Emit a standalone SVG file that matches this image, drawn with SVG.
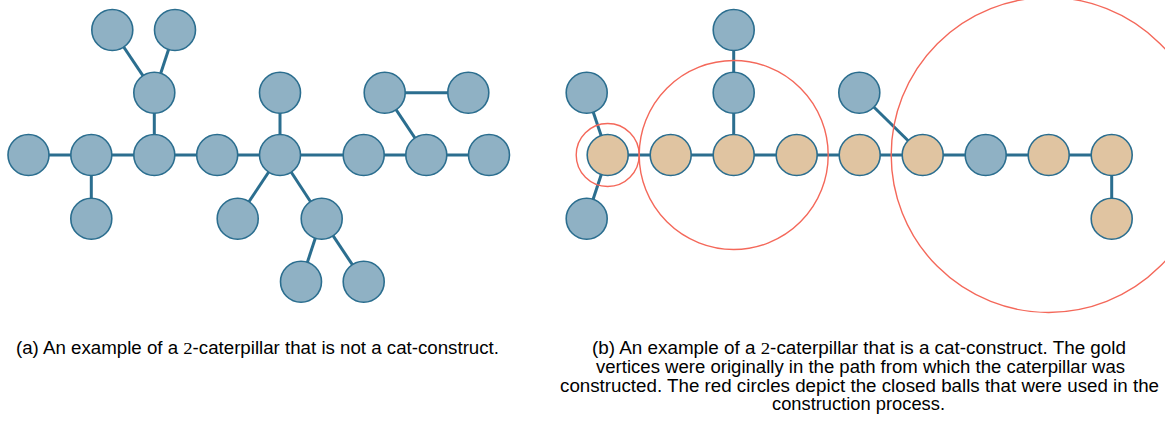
<svg xmlns="http://www.w3.org/2000/svg" width="1165" height="424" viewBox="0 0 1165 424">
<style>
.e{stroke:#2b6e8f;stroke-width:3;fill:none}
.n{fill:#8fb1c4;stroke:#2b6e8f;stroke-width:1.6}
.g{fill:#e0c4a1;stroke:#2b6e8f;stroke-width:1.6}
.b{fill:none;stroke:#f4685a;stroke-width:1.4}
.t{font-family:"Liberation Sans",Arial,sans-serif;font-size:17.5px;fill:#000}
.m{font-family:"Liberation Serif","Times New Roman",serif}
</style>
<rect width="1165" height="424" fill="#fff"/>
<g id="connectors-a">
<line class="e" x1="28.5" y1="155" x2="489" y2="155"/>
<line class="e" x1="91.3" y1="155" x2="91.3" y2="218.7"/>
<line class="e" x1="154.3" y1="155" x2="154.3" y2="92.7"/>
<line class="e" x1="154.3" y1="92.7" x2="112.3" y2="30"/>
<line class="e" x1="154.3" y1="92.7" x2="175" y2="30"/>
<line class="e" x1="280" y1="155" x2="280" y2="92.7"/>
<line class="e" x1="280" y1="155" x2="237.7" y2="218.7"/>
<line class="e" x1="280" y1="155" x2="321.7" y2="218.7"/>
<line class="e" x1="321.7" y1="218.7" x2="301" y2="281.7"/>
<line class="e" x1="321.7" y1="218.7" x2="363.7" y2="281.7"/>
<line class="e" x1="426.3" y1="155" x2="384.7" y2="92.7"/>
<line class="e" x1="384.7" y1="92.7" x2="468.3" y2="92.7"/>
</g>
<g id="nodes-a">
<circle id="a1" class="n" cx="28.5" cy="155" r="20.5"/>
<circle id="a2" class="n" cx="91.3" cy="155" r="20.5"/>
<circle id="a3" class="n" cx="154.3" cy="155" r="20.5"/>
<circle id="a4" class="n" cx="217.2" cy="155" r="20.5"/>
<circle id="a5" class="n" cx="280" cy="155" r="20.5"/>
<circle id="a6" class="n" cx="363.7" cy="155" r="20.5"/>
<circle id="a7" class="n" cx="426.3" cy="155" r="20.5"/>
<circle id="a8" class="n" cx="489" cy="155" r="20.5"/>
<circle id="a9" class="n" cx="91.3" cy="218.7" r="20.5"/>
<circle id="a10" class="n" cx="154.3" cy="92.7" r="20.5"/>
<circle id="a11" class="n" cx="112.3" cy="30" r="20.5"/>
<circle id="a12" class="n" cx="175" cy="30" r="20.5"/>
<circle id="a13" class="n" cx="280" cy="92.7" r="20.5"/>
<circle id="a14" class="n" cx="237.7" cy="218.7" r="20.5"/>
<circle id="a15" class="n" cx="321.7" cy="218.7" r="20.5"/>
<circle id="a16" class="n" cx="301" cy="281.7" r="20.5"/>
<circle id="a17" class="n" cx="363.7" cy="281.7" r="20.5"/>
<circle id="a18" class="n" cx="384.7" cy="92.7" r="20.5"/>
<circle id="a19" class="n" cx="468.3" cy="92.7" r="20.5"/>
</g>
<g id="connectors-b">
<line class="e" x1="607.7" y1="155" x2="1111.7" y2="155"/>
<line class="e" x1="586.7" y1="92.7" x2="607.7" y2="155"/>
<line class="e" x1="607.7" y1="155" x2="586.7" y2="218.7"/>
<line class="e" x1="733.7" y1="30" x2="733.7" y2="155"/>
<line class="e" x1="859.3" y1="92.7" x2="922.7" y2="155"/>
<line class="e" x1="1111.7" y1="155" x2="1111.7" y2="218.7"/>
</g>
<g id="nodes-b">
<circle id="b1" class="g" cx="607.7" cy="155" r="20.5"/>
<circle id="b2" class="g" cx="670.7" cy="155" r="20.5"/>
<circle id="b3" class="g" cx="733.7" cy="155" r="20.5"/>
<circle id="b4" class="g" cx="796.7" cy="155" r="20.5"/>
<circle id="b5" class="g" cx="859.7" cy="155" r="20.5"/>
<circle id="b6" class="g" cx="922.7" cy="155" r="20.5"/>
<circle id="b7" class="n" cx="985.7" cy="155" r="20.5"/>
<circle id="b8" class="g" cx="1048.7" cy="155" r="20.5"/>
<circle id="b9" class="g" cx="1111.7" cy="155" r="20.5"/>
<circle id="b10" class="g" cx="1111.7" cy="218.7" r="20.5"/>
<circle id="b11" class="n" cx="586.7" cy="92.7" r="20.5"/>
<circle id="b12" class="n" cx="586.7" cy="218.7" r="20.5"/>
<circle id="b13" class="n" cx="733.7" cy="92.7" r="20.5"/>
<circle id="b14" class="n" cx="733.7" cy="30" r="20.5"/>
<circle id="b15" class="n" cx="859.3" cy="92.7" r="20.5"/>
</g>
<g id="balls">
<circle class="b" cx="607.7" cy="155" r="31.5"/>
<circle class="b" cx="733.7" cy="155" r="94.5"/>
<circle class="b" cx="1048.7" cy="155" r="157.5"/>
</g>
<g id="captions">
<text class="t" x="16" y="354" textLength="483" lengthAdjust="spacingAndGlyphs">(a) An example of a <tspan class="m">2</tspan>-caterpillar that is not a cat-construct.</text>
<text class="t" x="592" y="354" textLength="534" lengthAdjust="spacingAndGlyphs">(b) An example of a <tspan class="m">2</tspan>-caterpillar that is a cat-construct.  The gold</text>
<text class="t" x="596" y="373" textLength="529" lengthAdjust="spacingAndGlyphs">vertices were originally in the path from which the caterpillar was</text>
<text class="t" x="560" y="391.5" textLength="599" lengthAdjust="spacingAndGlyphs">constructed.  The red circles depict the closed balls that were used in the</text>
<text class="t" x="772" y="410" textLength="173" lengthAdjust="spacingAndGlyphs">construction process.</text>
</g>
</svg>
